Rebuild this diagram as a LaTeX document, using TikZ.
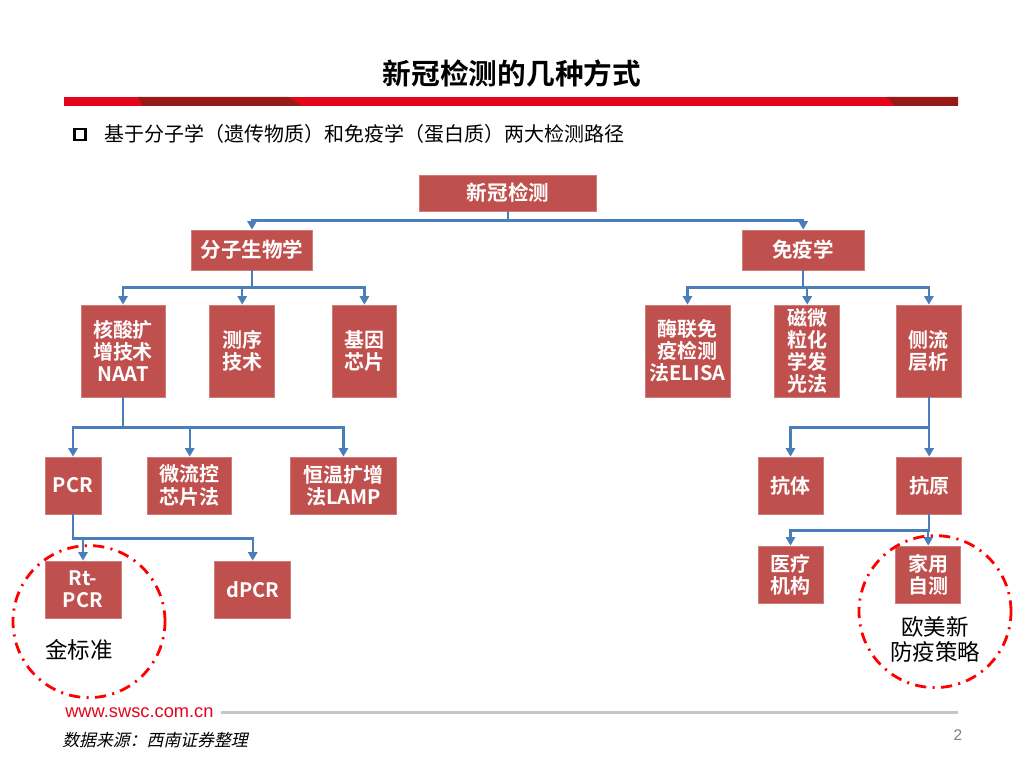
\documentclass[tikz,border=0pt]{standalone}
\usepackage{fontspec}
\setmainfont{Noto Sans CJK SC}[BoldFont=* Bold]
\newfontfamily\urlfont{Liberation Sans}
\newfontfamily\srcfont{Noto Sans CJK SC}[FakeSlant=0.22]
\usepackage{tikz}
\usetikzlibrary{arrows.meta,positioning,shapes.geometric}

\definecolor{boxred}{HTML}{C0504D}
\definecolor{linkblue}{HTML}{4A7EBB}
\definecolor{barred}{HTML}{E3061B}
\definecolor{bardark}{HTML}{961A17}
\definecolor{ringred}{HTML}{FF0000}

\begin{document}
\begin{tikzpicture}[
  box/.style={fill=boxred, draw=boxred!75!white, line width=0.5pt, text=white, align=center, inner sep=0pt,
    font=\bfseries\fontsize{14.2}{15.8}\selectfont},
  head/.style={box, font=\bfseries\fontsize{14.6}{16}\selectfont},
  tall/.style={box, minimum height=2.3cm},
  flat/.style={box, minimum height=1.425cm},
  arr/.style={-{Triangle[length=6pt,width=6.5pt]}, draw=linkblue, line width=1.7pt},
  ring/.style={circle, draw=ringred, line width=2pt, dash pattern=on 8pt off 4.5pt on 1.5pt off 4.5pt, minimum size=3.8cm, inner sep=0pt},
  note/.style={align=center, font=\fontsize{16}{17.8}\selectfont},
]
  \useasboundingbox (0,0) rectangle (25.6,-19.2);

  % Header
  \node[font=\bfseries\fontsize{20.4}{24}\selectfont] (title) at (12.8,-1.83) {新冠检测的几种方式};
  \fill[barred] (1.6,-2.425) rectangle (23.95,-2.65);
  \fill[bardark] (3.45,-2.425) -- (7.2,-2.425) -- (7.55,-2.65) -- (3.575,-2.65) -- cycle;
  \fill[bardark] (22.175,-2.425) -- (23.95,-2.425) -- (23.95,-2.65) -- (22.375,-2.65) -- cycle;
  \node[draw, line width=1.7pt, minimum size=0.28cm, inner sep=0pt] (bullet) at (2.0,-3.36) {};
  \node[anchor=west, font=\fontsize{14.2}{16}\selectfont] (subtitle) at (2.5,-3.34)
    {基于分子学（遗传物质）和免疫学（蛋白质）两大检测路径};

  % Top: root and two branches
  \node[head, minimum width=4.425cm, minimum height=0.9cm] (root) at (12.7,-4.825) {新冠检测};
  \node[head, minimum width=3.025cm, minimum height=1cm] (mol) at (6.3,-6.25) {分子生物学};
  \node[head, minimum width=3.05cm, minimum height=1cm, right=10.725cm of mol] (imm) {免疫学};

  % Layer 2: methods
  \node[tall, minimum width=2.1cm] (naat) at (3.075,-8.775) {核酸扩\\增技术\\NAAT};
  \node[tall, minimum width=1.625cm, right=1.1cm of naat] (seq) {测序\\技术};
  \node[tall, minimum width=1.6cm, right=1.425cm of seq] (chip) {基因\\芯片};
  \node[tall, minimum width=2.125cm] (elisa) at (17.1875,-8.775) {酶联免\\疫检测\\法ELISA};
  \node[tall, minimum width=1.625cm, right=1.1cm of elisa] (clia) {磁微\\粒化\\学发\\光法};
  \node[tall, minimum width=1.625cm, right=1.4cm of clia] (lfa) {侧流\\层析};

  % Layer 3
  \node[flat, minimum width=1.4cm] (pcr) at (1.825,-12.1375) {PCR};
  \node[flat, minimum width=2.1cm, right=1.15cm of pcr] (chipflow) {微流控\\芯片法};
  \node[flat, minimum width=2.65cm, right=1.45cm of chipflow] (lamp) {恒温扩增\\法LAMP};
  \node[flat, minimum width=1.625cm] (antibody) at (19.7625,-12.1375) {抗体};
  \node[flat, minimum width=1.625cm, right=1.825cm of antibody] (antigen) {抗原};

  % Layer 4
  \node[flat, minimum width=1.9cm] (rtpcr) at (2.075,-14.7375) {Rt-\\PCR};
  \node[flat, minimum width=1.9cm, right=2.325cm of rtpcr] (dpcr) {dPCR};
  \node[flat, minimum width=1.625cm] (clinic) at (19.7625,-14.3625) {医疗\\机构};
  \node[flat, minimum width=1.625cm, right=1.8cm of clinic] (selftest) {家用\\自测};

  % Edges
  \draw[arr] (root.south) -- ++(0,-0.225) -| (mol.north);
  \draw[arr] (root.south) -- ++(0,-0.225) -| (imm.north);
  \draw[arr] (mol.south) -- ++(0,-0.425) -| (naat.north);
  \draw[arr] (mol.south) -- ++(0,-0.425) -| (seq.north);
  \draw[arr] (mol.south) -- ++(0,-0.425) -| (chip.north);
  \draw[arr] (imm.south) -- ++(0,-0.425) -| (elisa.north);
  \draw[arr] (imm.south) -- ++(0,-0.425) -| (clia.north);
  \draw[arr] (imm.south) -- ++(0,-0.425) -| (lfa.north);
  \draw[arr] (naat.south) -- ++(0,-0.75) -| (pcr.north);
  \draw[arr] (naat.south) -- ++(0,-0.75) -| (chipflow.north);
  \draw[arr] (naat.south) -- ++(0,-0.75) -| (lamp.north);
  \draw[arr] (lfa.south) -- ++(0,-0.75) -| (antibody.north);
  \draw[arr] (lfa.south) -- ++(0,-0.75) -| (antigen.north);
  \draw[arr] (pcr.south) -- ++(0,-0.6) -| (rtpcr.north);
  \draw[arr] (pcr.south) -- ++(0,-0.6) -| (dpcr.north);
  \draw[arr] (antigen.south) -- ++(0,-0.4) -| (clinic.north);
  \draw[arr] (antigen.south) -- ++(0,-0.4) -| (selftest.north);

  % Highlights
  \node[ring] (goldring) at (2.225,-15.54) {};
  \node[note] (gold) at (1.975,-16.25) {金标准};
  \node[ring] (westring) at (23.375,-15.29) {};
  \node[note] (west) at (23.375,-15.99) {欧美新\\防疫策略};

  % Footer
  \node[anchor=west, inner sep=0pt, text=barred, font=\urlfont\fontsize{13}{14}\selectfont] (url) at (1.625,-17.82) {www.swsc.com.cn};
  \coordinate (ruleend) at (23.95,-17.82);
  \draw[gray!45, line width=2pt] ([xshift=5pt]url.east) -- (ruleend);
  \node[anchor=west, inner sep=0pt, font=\srcfont\fontsize{12}{14}\selectfont] (source) at (1.55,-18.5) {数据来源：西南证券整理};
  \node[text=gray, font=\urlfont\fontsize{11}{13}\selectfont] (page) at (23.95,-18.38) {2};
\end{tikzpicture}
\end{document}
